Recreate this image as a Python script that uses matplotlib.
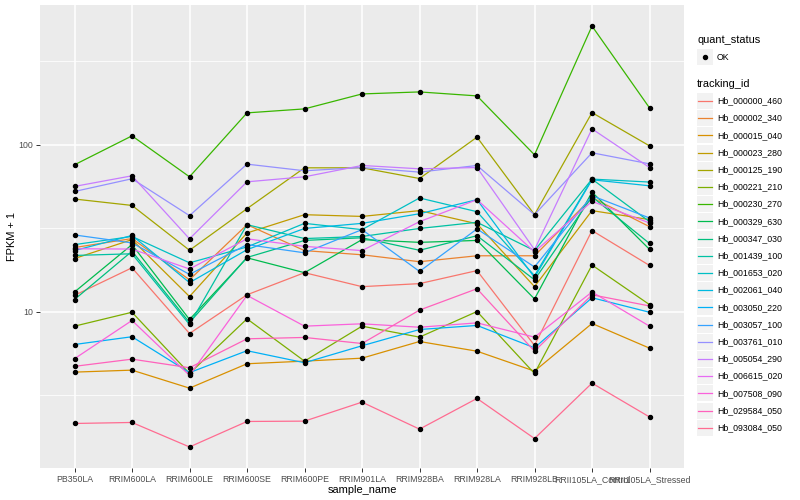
import numpy as np
import matplotlib
matplotlib.use("Agg")
import matplotlib.pyplot as plt
from matplotlib.ticker import FixedLocator, NullFormatter
from matplotlib.patches import Rectangle
from matplotlib.lines import Line2D

plt.rcParams['font.family'] = ['Liberation Sans', 'DejaVu Sans']

sample_names = ["PB350LA", "RRIM600LA", "RRIM600LE", "RRIM600SE", "RRIM600PE",
                "RRIM901LA", "RRIM928BA", "RRIM928LA", "RRIM928LB",
                "RRII105LA_Control", "RRII105LA_Stressed"]

tracking_ids = ["Hb_000000_460", "Hb_000002_340", "Hb_000015_040", "Hb_000023_280",
                "Hb_000125_190", "Hb_000221_210", "Hb_000230_270", "Hb_000329_630",
                "Hb_000347_030", "Hb_001439_100", "Hb_001653_020", "Hb_002061_040",
                "Hb_003050_220", "Hb_003057_100", "Hb_003761_010", "Hb_005054_290",
                "Hb_006615_020", "Hb_007508_090", "Hb_029584_050", "Hb_093084_050"]

# ggplot default hue palette for 20 levels
colors = ["#F8766D", "#EA8331", "#D89000", "#C09B00", "#A3A500", "#7CAE00", "#39B600",
          "#00BB4E", "#00BF7D", "#00C1A3", "#00BFC4", "#00BAE0", "#00B0F6", "#35A2FF",
          "#9590FF", "#C77CFF", "#E76BF3", "#FA62DB", "#FF62BC", "#FF6C91"]

# FPKM + 1 per sample
hb_000000_460 = [12.5, 18.3, 7.38, 12.6, 17.1, 14.1, 14.7, 17.6, 6.26, 30.6, 18.9]
hb_000002_340 = [24.2, 27.4, 15.5, 33.2, 23.2, 21.9, 19.9, 21.6, 21.6, 48.2, 32.3]
hb_000015_040 = [4.33, 4.45, 3.47, 4.86, 5.04, 5.25, 6.61, 5.78, 4.39, 8.48, 6.03]
hb_000023_280 = [20.8, 27.0, 12.3, 29.6, 38.1, 37.2, 40.3, 33.6, 14.1, 40.3, 35.6]
hb_000125_190 = [47.3, 43.3, 23.3, 41.4, 72.8, 72.8, 62.8, 111.2, 38.1, 156.1, 98.6]
hb_000221_210 = [8.17, 9.90, 4.25, 9.04, 5.04, 8.17, 7.02, 10.0, 4.25, 19.0, 11.0]
hb_000230_270 = [75.9, 113.2, 64.3, 155.5, 164.3, 202.0, 207.7, 196.6, 87.1, 516.0, 166.6]
hb_000329_630 = [13.1, 25.2, 8.96, 21.0, 17.1, 27.0, 26.0, 26.7, 11.9, 52.1, 23.6]
hb_000347_030 = [11.8, 23.0, 8.59, 21.1, 26.7, 27.7, 23.3, 28.5, 15.5, 48.8, 25.6]
hb_001439_100 = [21.7, 22.2, 8.36, 33.2, 27.4, 28.2, 31.5, 34.3, 23.2, 62.3, 34.6]
hb_001653_020 = [25.2, 28.2, 19.6, 24.4, 33.8, 31.0, 48.0, 39.7, 16.4, 62.3, 59.8]
hb_002061_040 = [23.2, 28.6, 14.9, 23.5, 31.5, 33.8, 38.6, 46.9, 16.0, 61.7, 56.8]
hb_003050_220 = [6.34, 7.06, 4.30, 5.82, 4.93, 6.23, 7.80, 8.25, 6.06, 12.1, 9.90]
hb_003057_100 = [28.8, 25.8, 16.7, 25.2, 22.5, 31.0, 17.4, 31.3, 18.5, 49.5, 36.4]
hb_003761_010 = [52.5, 62.6, 37.6, 76.6, 69.9, 73.1, 68.6, 75.2, 38.1, 89.6, 76.9]
hb_005054_290 = [56.3, 65.2, 27.3, 60.0, 64.3, 75.2, 71.8, 73.1, 23.5, 124.7, 73.1]
hb_006615_020 = [23.8, 23.7, 18.0, 27.3, 24.6, 23.2, 34.6, 46.9, 22.8, 45.8, 34.0]
hb_007508_090 = [5.21, 8.84, 4.14, 12.5, 8.17, 8.44, 8.05, 8.55, 7.02, 13.1, 8.17]
hb_029584_050 = [4.69, 5.18, 4.60, 6.86, 6.99, 6.43, 10.2, 13.7, 5.78, 12.6, 10.8]
hb_093084_050 = [2.13, 2.16, 1.54, 2.19, 2.20, 2.86, 1.97, 3.01, 1.73, 3.72, 2.33]

series = [hb_000000_460, hb_000002_340, hb_000015_040, hb_000023_280, hb_000125_190,
          hb_000221_210, hb_000230_270, hb_000329_630, hb_000347_030, hb_001439_100,
          hb_001653_020, hb_002061_040, hb_003050_220, hb_003057_100, hb_003761_010,
          hb_005054_290, hb_006615_020, hb_007508_090, hb_029584_050, hb_093084_050]

W, H = 800, 500
fig = plt.figure(figsize=(8, 5), dpi=100)
ax = fig.add_axes([40 / W, 1 - 468 / H, (684 - 40) / W, (468 - 5) / H])
ax.set_facecolor("#EBEBEB")

xpos = np.arange(1, len(sample_names) + 1)
for vals, col in zip(series, colors):
    ax.plot(xpos, vals, color=col, lw=0.9, zorder=2)
for vals in series:
    ax.plot(xpos, vals, "o", color="black", ms=2.9, zorder=3)

ax.set_yscale("log")
allv = np.concatenate([np.array(s) for s in series])
lo, hi = np.log10(allv.min()), np.log10(allv.max())
pad = 0.05 * (hi - lo)
ax.set_ylim(10 ** (lo - pad), 10 ** (hi + pad))
ax.set_xlim(0.4, len(sample_names) + 0.6)

ax.set_yticks([10, 100])
ax.set_yticklabels(["10", "100"])
ax.yaxis.set_minor_locator(FixedLocator([10 ** 0.5, 10 ** 1.5, 10 ** 2.5]))
ax.yaxis.set_minor_formatter(NullFormatter())
ax.set_xticks(xpos)
ax.set_xticklabels(sample_names)

ax.tick_params(which="major", length=3, width=0.7, color="#333333",
               labelsize=6.3, labelcolor="#4D4D4D", pad=2)
ax.tick_params(which="minor", length=0)
ax.set_axisbelow(True)
ax.grid(which="major", color="white", lw=1.1)
ax.grid(which="minor", axis="y", color="white", lw=0.55)
for s in ax.spines.values():
    s.set_visible(False)

ax.set_xlabel("sample_name", fontsize=7.9, labelpad=1)
ax.set_ylabel("FPKM + 1", fontsize=7.9, labelpad=1)

# legends drawn by hand, ggplot style
def fx(x):
    return x / W

def fy(y):
    return 1 - y / H

fig.text(fx(697), fy(40), "quant_status", fontsize=7.9, va="center", ha="left")
fig.add_artist(Rectangle((fx(697), fy(65)), 16 / W, 16 / H, transform=fig.transFigure,
                         facecolor="#F2F2F2", edgecolor="none"))
fig.add_artist(Line2D([fx(705)], [fy(57)], marker="o", color="black", ms=2.9,
                      transform=fig.transFigure))
fig.text(fx(717), fy(57), "OK", fontsize=6.3, va="center", ha="left")

fig.text(fx(697), fy(84), "tracking_id", fontsize=7.9, va="center", ha="left")
y0, step = 101, 17.2
for i, (tid, col) in enumerate(zip(tracking_ids, colors)):
    yc = y0 + i * step
    fig.add_artist(Rectangle((fx(697), fy(yc + 8)), 16 / W, 16 / H,
                             transform=fig.transFigure, facecolor="#F2F2F2",
                             edgecolor="none"))
    fig.add_artist(Line2D([fx(698), fx(712)], [fy(yc), fy(yc)], color=col, lw=0.9,
                          transform=fig.transFigure))
    fig.text(fx(717), fy(yc), tid, fontsize=6.3, va="center", ha="left")

fig.savefig("out.png", dpi=100)
